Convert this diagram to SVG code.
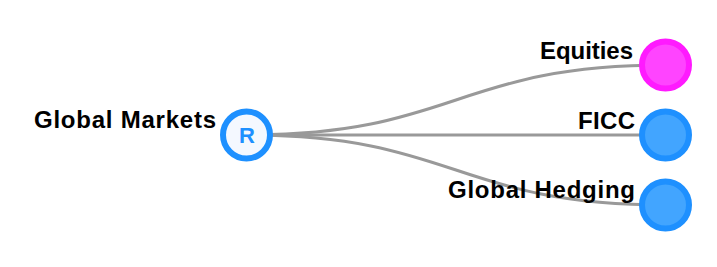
<svg xmlns="http://www.w3.org/2000/svg" width="717" height="267" viewBox="0 0 717 267">
<style>
.link{fill:none;stroke:#999;stroke-width:3}
.lbl{font-family:"Liberation Sans",Arial,sans-serif;font-weight:bold;font-size:24px;fill:#000;text-anchor:end}
.blue{fill:#42a5ff;stroke:#1e90ff;stroke-width:6}
.mag{fill:#ff44ff;stroke:#ff1aff;stroke-width:6}
.root{fill:#f4f8ff;stroke:#1e90ff;stroke-width:6}
</style>
<rect width="717" height="267" fill="#fff"/>
<g id="links">
<path class="link" d="M246.5,135C456,135 456,65 665.5,65"/>
<path class="link" d="M246.5,135L665.5,135"/>
<path class="link" d="M246.5,135C456,135 456,205 665.5,205"/>
</g>
<g id="node-global-markets">
<circle class="root" cx="246.5" cy="135" r="23.5"/>
<text x="247" y="143" font-family="Liberation Sans,Arial,sans-serif" font-weight="bold" font-size="22" fill="#1e90ff" text-anchor="middle">R</text>
<text class="lbl" x="216" y="128" textLength="182" lengthAdjust="spacing">Global Markets</text>
</g>
<g id="node-equities">
<circle class="mag" cx="665.5" cy="65" r="23.5"/>
<text class="lbl" x="633" y="59" textLength="93" lengthAdjust="spacing">Equities</text>
</g>
<g id="node-ficc">
<circle class="blue" cx="665.5" cy="135" r="23.5"/>
<text class="lbl" x="635" y="129" textLength="57" lengthAdjust="spacing">FICC</text>
</g>
<g id="node-global-hedging">
<circle class="blue" cx="665.5" cy="205" r="23.5"/>
<text class="lbl" x="635" y="198" textLength="187" lengthAdjust="spacing">Global Hedging</text>
</g>
</svg>
